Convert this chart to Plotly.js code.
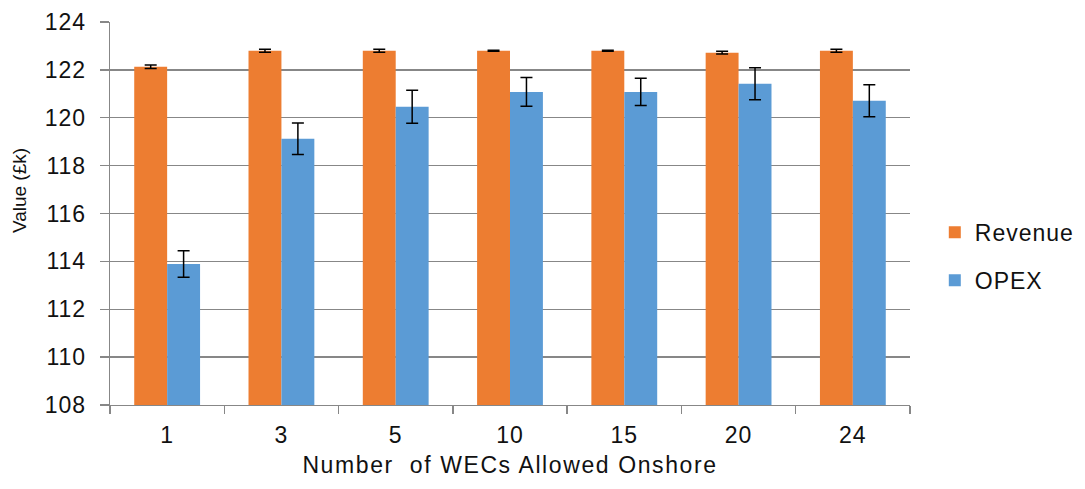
<!DOCTYPE html>
<html>
<head>
<meta charset="utf-8">
<script src="https://cdn.plot.ly/plotly-3.0.1.min.js"></script>
<style>
  html, body { margin: 0; padding: 0; background: #ffffff; }
  #chart { width: 1085px; height: 489px; }
  /* slightly wider lettering for horizontal labels */
  #chart .xtick text { letter-spacing: 1px; }
  #chart .xtitle { letter-spacing: 1.6px; }
  #chart .ytick text { letter-spacing: 1px; }
  #chart .legendtext { letter-spacing: 1px; }
</style>
</head>
<body>
<div id="chart"></div>
<script>
// Number of wave energy converters allowed onshore
const categories = ['1', '3', '5', '10', '15', '20', '24'];

// Mean revenue and OPEX (£k) with their error margins
const revenue    = [122.13, 122.80, 122.80, 122.80, 122.80, 122.72, 122.80];
const revenueErr = [0.07, 0.06, 0.06, 0.02, 0.02, 0.06, 0.06];
const opex       = [113.89, 119.12, 120.46, 121.08, 121.08, 121.42, 120.71];
const opexErr    = [0.55, 0.66, 0.69, 0.60, 0.57, 0.67, 0.67];

const yTicks = [108, 110, 112, 114, 116, 118, 120, 122, 124];

const FONT = 'Liberation Sans, Arial, sans-serif';
const TEXT = '#111111';
const GRID = '#878787';

function errBars(vals) {
  return { type: 'data', array: vals, visible: true, color: '#000000', thickness: 1.5, width: 6 };
}

const traces = [
  {
    type: 'bar', name: 'Revenue', x: categories, y: revenue,
    marker: { color: '#ED7D31' }, error_y: errBars(revenueErr),
    legendgroup: 'rev'
  },
  {
    type: 'bar', name: 'OPEX', x: categories, y: opex,
    marker: { color: '#5B9BD5' }, error_y: errBars(opexErr),
    legendgroup: 'opex'
  }
];

const layout = {
  width: 1085, height: 489,
  margin: { l: 110, r: 173, t: 22, b: 84 },
  paper_bgcolor: '#ffffff', plot_bgcolor: '#ffffff',
  font: { family: FONT, color: TEXT, size: 23 },
  barmode: 'group', bargap: 0.424, bargroupgap: 0,
  xaxis: {
    type: 'category',
    showline: true, linecolor: GRID, linewidth: 1.3,
    ticks: 'outside', tickson: 'boundaries', ticklen: 8, tickcolor: GRID, tickwidth: 1.3,
    showgrid: false, zeroline: false,
    tickfont: { family: FONT, size: 23, color: TEXT },
    ticklabelstandoff: 9,
    title: { text: 'Number\u00a0 of WECs Allowed Onshore', font: { family: FONT, size: 23, color: TEXT }, standoff: 10 }
  },
  yaxis: {
    range: [108, 124], tickvals: yTicks, ticktext: yTicks.map(String),
    showline: true, linecolor: GRID, linewidth: 1.3,
    ticks: 'outside', ticklen: 9, tickcolor: GRID, tickwidth: 1.3,
    showgrid: true, gridcolor: GRID, gridwidth: 1.3, zeroline: false,
    tickfont: { family: FONT, size: 23, color: TEXT },
    ticklabelstandoff: 9
  },
  showlegend: true,
  legend: {
    x: 1.031, xanchor: 'left', y: 0.388, yanchor: 'middle',
    traceorder: 'grouped', tracegroupgap: 15,
    font: { family: FONT, size: 23, color: TEXT },
    bgcolor: 'rgba(0,0,0,0)', borderwidth: 0
  },
  annotations: [
    {
      text: 'Value (£k)', textangle: -90,
      xref: 'paper', yref: 'paper', x: -0.113, y: 0.56,
      xanchor: 'center', yanchor: 'middle', showarrow: false,
      font: { family: FONT, size: 19, color: TEXT }
    }
  ]
};

Plotly.newPlot('chart', traces, layout, { displayModeBar: false, staticPlot: true });
</script>
</body>
</html>
